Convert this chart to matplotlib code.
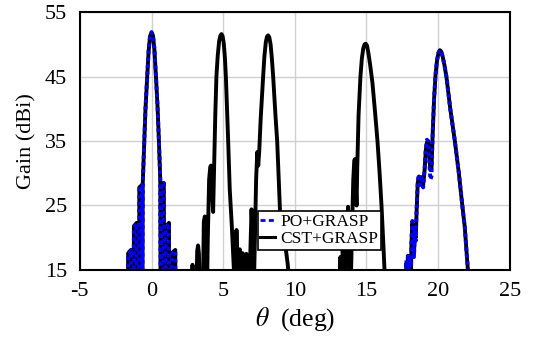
import matplotlib
matplotlib.use("Agg")
import matplotlib.pyplot as plt
from matplotlib.lines import Line2D

plt.rcParams['font.family'] = ['Liberation Serif', 'DejaVu Serif']
plt.rcParams['mathtext.fontset'] = 'stix'
plt.rcParams['axes.unicode_minus'] = False

# ---- data (theta in deg, gain in dBi) ----
theta_b0 = [-1.64, -1.63, -1.44, -1.43,
            -1.24, -1.23, -1.04, -1.03,
            -0.86, -0.85, -0.66, -0.65,
            -0.64, -0.61, -0.52, -0.42, -0.30, -0.20, -0.10, 0.00,
            0.10, 0.20, 0.30, 0.42, 0.52, 0.61, 0.64,
            0.65, 0.66, 0.86, 0.87,
            0.99, 1.00, 1.22, 1.23,
            1.40, 1.41, 1.66, 1.67]
gain_b0_cst = [10, 17.6, 18.1, 10,
               10, 21.8, 22.3, 10,
               10, 27.8, 28.2, 10,
               10, 28.5, 34.0, 40.0, 45.0, 49.0, 51.3, 51.8,
               51.4, 49.3, 45.4, 40.4, 34.8, 29.0, 10,
               10, 28.3, 28.5, 10,
               10, 21.8, 22.3, 10,
               10, 17.6, 18.1, 10]
gain_b0_po = [10, 17.4, 18.0, 10,
              10, 21.6, 22.2, 10,
              10, 27.6, 28.0, 10,
              10, 28.3, 34.0, 40.1, 45.1, 49.1, 51.4, 51.9,
              51.5, 49.4, 45.5, 40.4, 34.9, 29.1, 10,
              10, 28.2, 28.4, 10,
              10, 21.6, 22.2, 10,
              10, 17.4, 18.0, 10]

theta_b5 = [2.80, 2.86, 2.92, 3.12, 3.19, 3.25, 3.31, 3.38, 3.58, 3.65,
            3.72, 3.79, 3.86, 3.93, 4.02, 4.10, 4.15, 4.22, 4.30, 4.36,
            4.45, 4.53, 4.62, 4.72, 4.80, 4.88, 4.96, 5.04, 5.12, 5.19,
            5.35, 5.46, 5.60, 5.75, 5.80, 5.86, 5.93, 6.00, 6.08, 6.16,
            6.24, 6.30, 6.36, 6.42, 6.50]
gain_b5 = [10, 15.8, 10, 10, 18.0, 18.8, 17.5, 10, 10, 22.5,
           23.3, 22.0, 10, 20.0, 29.0, 31.0, 31.2, 27.5, 24.0, 30.0,
           39.0, 45.0, 48.2, 50.5, 51.3, 51.6, 51.3, 50.2, 48.0, 45.0,
           35.0, 27.5, 22.0, 15.0, 10, 14.0, 21.2, 16.0, 10, 18.2,
           16.0, 10, 17.6, 16.0, 10]

theta_b8 = [6.55, 6.62, 6.70, 6.80, 6.90, 6.98, 7.06, 7.12, 7.20, 7.30,
            7.38, 7.45, 7.52, 7.62, 7.79, 7.88, 7.98, 8.06, 8.14, 8.22,
            8.31, 8.40, 8.49, 8.65, 8.77, 8.88, 8.97, 9.10, 9.30, 9.50,
            9.62, 9.70]
gain_b8 = [10, 17.5, 15.5, 10, 18.0, 24.4, 20.0, 10, 18.0, 29.0,
           33.3, 31.2, 33.5, 38.5, 45.0, 48.2, 50.4, 51.2, 51.4, 51.1,
           50.0, 47.8, 45.0, 39.0, 35.0, 29.0, 24.0, 22.5, 19.5, 16.0,
           13.0, 10]

theta_b15 = [13.10, 13.18, 13.26, 13.34, 13.42, 13.50, 13.58, 13.66, 13.72, 13.80,
             13.88, 13.98, 14.08, 14.15, 14.20, 14.26, 14.31, 14.36, 14.45, 14.58,
             14.68, 14.78, 14.87, 14.95, 15.04, 15.14, 15.26, 15.42, 15.60, 15.77,
             15.92, 16.05, 16.18, 16.28, 16.34]
gain_b15 = [10, 17.0, 10, 18.0, 16.0, 10, 17.5, 22.0, 24.8, 19.0,
            10, 20.0, 29.0, 32.0, 32.2, 28.0, 25.0, 31.0, 39.0, 45.0,
            47.8, 49.4, 50.0, 50.1, 49.8, 48.6, 46.8, 44.0, 39.5, 35.0,
            30.0, 25.0, 19.0, 14.0, 10]

theta_b20 = [17.72, 17.78, 17.84, 17.90, 17.96, 18.02, 18.08, 18.14, 18.20, 18.26,
             18.32, 18.38, 18.44, 18.50, 18.58, 18.66, 18.76, 18.86, 18.96, 19.06,
             19.14, 19.22, 19.30, 19.38, 19.46, 19.54, 19.62, 19.72, 19.82, 19.92,
             20.02, 20.12, 20.22, 20.32, 20.44, 20.58, 20.85, 21.17, 21.45, 21.70,
             21.86, 21.98, 22.08, 22.14]
gain_b20_cst = [10, 16.0, 15.2, 17.2, 15.5, 16.5, 10, 19.0, 22.2, 20.5,
                17.5, 21.0, 20.0, 24.0, 28.5, 29.5, 28.6, 29.4, 28.2, 30.5,
                33.5, 34.8, 35.0, 33.0, 30.5, 30.8, 36.0, 41.5, 45.2, 47.4,
                48.6, 49.1, 48.9, 48.1, 46.8, 45.0, 40.0, 35.0, 30.0, 24.8,
                21.7, 18.0, 15.0, 10]
gain_b20_po = [10, 16.5, 15.0, 17.6, 15.2, 16.8, 10, 19.5, 22.6, 20.0,
               17.0, 21.4, 19.5, 24.5, 28.8, 29.8, 28.2, 29.6, 27.8, 30.8,
               33.8, 35.2, 35.0, 32.0, 29.0, 29.5, 36.2, 41.6, 45.3, 47.5,
               48.7, 49.1, 48.9, 48.1, 46.8, 45.0, 40.0, 35.0, 30.0, 24.8,
               21.7, 18.0, 15.0, 10]

x_ticks = [-5, 0, 5, 10, 15, 20, 25]
y_ticks = [15, 25, 35, 45, 55]
legend_labels = ['PO+GRASP', 'CST+GRASP']

# ---- figure ----
fig = plt.figure(figsize=(5.36, 3.37), dpi=100)
ax = fig.add_axes([0.149, 0.199, 0.802, 0.765])

lw = 2.8
cst_kw = dict(color='black', lw=lw, solid_joinstyle='round')
po_kw = dict(color='#0000ff', lw=lw, linestyle=(0, (0.9, 0.9)))

ax.plot(theta_b0, gain_b0_cst, **cst_kw)
ax.plot(theta_b5, gain_b5, **cst_kw)
ax.plot(theta_b8, gain_b8, **cst_kw)
ax.plot(theta_b15, gain_b15, **cst_kw)
ax.plot(theta_b20, gain_b20_cst, **cst_kw)
ax.plot(theta_b0, gain_b0_po, **po_kw)
ax.plot(theta_b20, gain_b20_po, **po_kw)

handles = [Line2D([], [], color='#0000ff', lw=2.0, linestyle=(0, (1.8, 1.2))),
           Line2D([], [], color='black', lw=2.2)]
leg = ax.legend(handles, legend_labels, loc='lower left',
                bbox_to_anchor=(0.414, 0.078), borderaxespad=0,
                fontsize=12.5, handlelength=0.85, handletextpad=0.3,
                borderpad=0.15, labelspacing=0.05, fancybox=False,
                framealpha=1, edgecolor='black')
leg.get_frame().set_linewidth(1.2)

ax.set_xlim(-5, 25)
ax.set_ylim(15, 55)
ax.set_xticks(x_ticks)
ax.set_yticks(y_ticks)
ax.grid(True, color='#d0d0d0', lw=1.0)
ax.set_axisbelow(True)
ax.tick_params(length=0, labelsize=16, pad=9)
for s in ax.spines.values():
    s.set_linewidth(1.5)

ax.set_xlabel(r'$\theta$  (deg)', fontsize=18.5, labelpad=3)
ax.set_ylabel('Gain (dBi)', fontsize=16, labelpad=6)

fig.savefig('out.png', dpi=100)
